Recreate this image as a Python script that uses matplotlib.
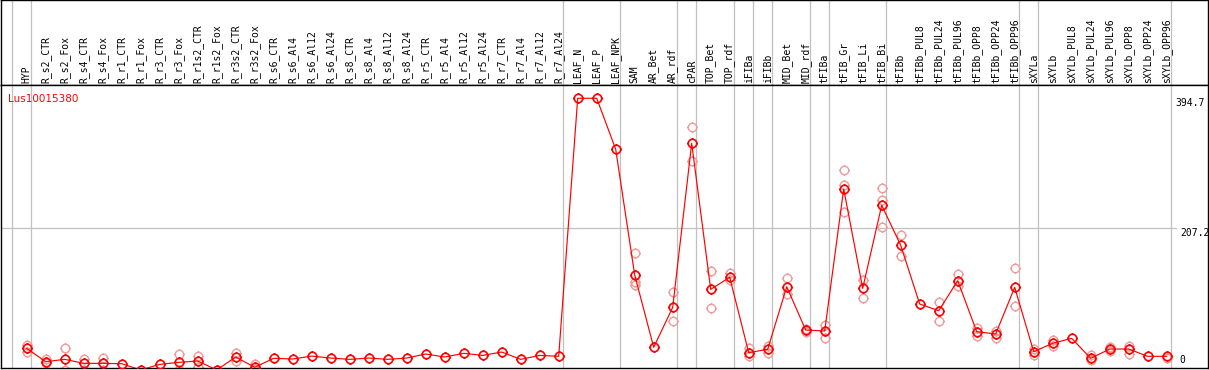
import matplotlib
matplotlib.use("Agg")
import matplotlib.pyplot as plt
import numpy as np
from matplotlib.path import Path
from matplotlib.transforms import blended_transform_factory

GENE = "Lus10015380"

samples = [
    "HYP",
    "R_s2_CTR", "R_s2_Fox", "R_s4_CTR", "R_s4_Fox", "R_r1_CTR", "R_r1_Fox",
    "R_r3_CTR", "R_r3_Fox", "R_r1s2_CTR", "R_r1s2_Fox", "R_r3s2_CTR", "R_r3s2_Fox",
    "R_s6_CTR", "R_s6_Al4", "R_s6_Al12", "R_s6_Al24",
    "R_s8_CTR", "R_s8_Al4", "R_s8_Al12", "R_s8_Al24",
    "R_r5_CTR", "R_r5_Al4", "R_r5_Al12", "R_r5_Al24",
    "R_r7_CTR", "R_r7_Al4", "R_r7_Al12", "R_r7_Al24",
    "LEAF_N", "LEAF_P", "LEAF_NPK",
    "SAM", "AR_Bet", "AR_rdf",
    "cPAR",
    "TOP_Bet", "TOP_rdf",
    "iFIBa",
    "iFIBb",
    "MID_Bet", "MID_rdf",
    "tFIBa",
    "tFIB_Gr", "tFIB_Li", "tFIB_Bi",
    "tFIBb", "tFIBb_PUL8", "tFIBb_PUL24", "tFIBb_PUL96",
    "tFIBb_OPP8", "tFIBb_OPP24", "tFIBb_OPP96",
    "sXYLa",
    "sXYLb", "sXYLb_PUL8", "sXYLb_PUL24", "sXYLb_PUL96",
    "sXYLb_OPP8", "sXYLb_OPP24", "sXYLb_OPP96",
]

# number of samples in each tissue group (separated by grey lines)
group_sizes = [1, 28, 3, 3, 1, 2, 1, 1, 2, 1, 3, 7, 1, 7]

means = [
    33.2,
    13.9, 17.3, 11.5, 11.5, 11.0, 2.0, 10.0, 13.0, 14.9, 2.0, 20.7, 5.8,
    18.8, 17.8, 22.0, 19.2,
    17.3, 19.2, 17.3, 19.2,
    25.0, 20.7, 26.0, 23.0,
    27.9, 17.3, 23.0, 21.7,
    394.7, 394.7, 321.0,
    139.2, 34.7, 92.5,
    329.6,
    118.5, 135.9,
    27.0,
    31.8,
    122.3, 59.7,
    58.3,
    263.6, 120.0, 240.0,
    182.2, 97.3, 87.6, 131.0,
    57.3, 54.0, 121.4,
    28.4,
    40.5, 47.7, 18.8, 32.2,
    32.2, 21.7, 21.7,
]

replicates = [
    [38.0, 28.2],
    [17.3, 11.5], [33.2, 1.5], [17.3, 1.5], [18.8, 1.5], [], [],
    [], [24.5, 1.5], [22.3, 6.7], [], [26.0, 15.0], [10.0, 3.0],
    [], [], [], [],
    [], [], [], [],
    [], [], [], [],
    [], [], [], [],
    [], [], [],
    [170.6, 129.5, 124.8], [], [114.2, 72.3],
    [353.6, 304.0],
    [145.5, 92.0], [141.7, 132.0],
    [33.0, 22.0],
    [37.0, 26.0],
    [134.4, 111.3], [61.0, 57.0],
    [67.0, 48.6],
    [291.0, 270.0, 229.9], [132.0, 106.4], [264.6, 247.6, 209.0],
    [197.0, 166.7], [], [100.2, 72.7], [140.7, 123.8],
    [62.0, 51.5], [58.7, 48.6], [148.9, 93.9],
    [31.6, 24.0],
    [45.0, 37.0], [], [24.0, 16.0], [35.5, 30.0],
    [37.0, 25.0], [], [19.0],
]

y_ticks = [0, 207.2, 394.7]

RED = "#ff0000"
PINK = "#f09a9a"
GREY = "#c0c0c0"

W, H = 1209, 370
STEP = 19.0      # px per sample
X0 = 26.7        # px of first sample
LEFT, RIGHT = 1, 1208
HEAD = 85
BOTTOM = 368


def px_box(x0, y0, x1, y1):
    return [x0 / W, 1 - y1 / H, (x1 - x0) / W, (y1 - y0) / H]


def ring_marker():
    # open circle with four small ticks, like the original pixel markers
    circle = Path.unit_circle()
    t = 1.25
    ticks = Path(
        [(0, 1), (0, t), (0, -1), (0, -t), (1, 0), (t, 0), (-1, 0), (-t, 0)],
        [Path.MOVETO, Path.LINETO] * 4,
    )
    return Path.make_compound_path(circle, ticks)


fig = plt.figure(figsize=(W / 100, H / 100), dpi=100)
ax_h = fig.add_axes(px_box(LEFT, 0, RIGHT, HEAD))
ax = fig.add_axes(px_box(LEFT, HEAD, RIGHT, BOTTOM), sharex=ax_h)

x = np.arange(len(samples))
xlim = ((LEFT - X0) / STEP, (RIGHT - X0) / STEP)
ax.set_xlim(*xlim)
ax.set_ylim(4.8, 413.9)
ax_h.set_ylim(0, 1)

for a in (ax, ax_h):
    a.set_xticks([])
    a.set_yticks([])
    for s in a.spines.values():
        s.set_linewidth(1.0)
        s.set_color("black")

# group separators run through header and plot
ends = np.concatenate([[-1], np.cumsum(group_sizes) - 1])
for e in ends:
    for a in (ax, ax_h):
        a.axvline(e + 4 / STEP, color=GREY, linewidth=0.9, zorder=0)

ax.axhline(y_ticks[1], xmin=0, xmax=(1176 - LEFT) / (RIGHT - LEFT),
           color=GREY, linewidth=0.9, zorder=0)

marker = ring_marker()
rx = [i for i, r in enumerate(replicates) for _ in r]
ry = [v for r in replicates for v in r]
ax.plot(rx, ry, linestyle="none", marker=marker, markersize=7.6,
        markerfacecolor="none", markeredgecolor=PINK, markeredgewidth=1.0, zorder=2)
ax.plot(x, means, color=RED, linewidth=0.85, marker=marker, markersize=7.6,
        markerfacecolor="none", markeredgecolor=RED, markeredgewidth=1.2, zorder=3)

# sample labels in the header
trans_h = blended_transform_factory(ax_h.transData, ax_h.transAxes)
for i, name in enumerate(samples):
    ax_h.text(i, 2 / HEAD, name, rotation=90, ha="center", va="bottom",
              fontsize=7, family="DejaVu Sans Mono", transform=trans_h)

# value labels on the right
trans_y = blended_transform_factory(ax.transAxes, ax.transData)
lx = (1175 - LEFT) / (RIGHT - LEFT)
ax.text(lx, y_ticks[2], f"{y_ticks[2]:g}", ha="left", va="top", fontsize=7,
        family="DejaVu Sans Mono", transform=trans_y)
ax.text(lx + 0.004, y_ticks[1], f"{y_ticks[1]:g}", ha="left", va="top", fontsize=7,
        family="DejaVu Sans Mono", transform=trans_y)
ax.text(lx + 0.004, 0.012, "0", ha="left", va="bottom", fontsize=7,
        family="DejaVu Sans Mono", transform=ax.transAxes)

ax.text(7 / (RIGHT - LEFT), 1 - 9 / (BOTTOM - HEAD), GENE, color=RED, fontsize=7.5,
        ha="left", va="top", transform=ax.transAxes)

fig.savefig("out.png", dpi=100, facecolor="white")
plt.close(fig)
